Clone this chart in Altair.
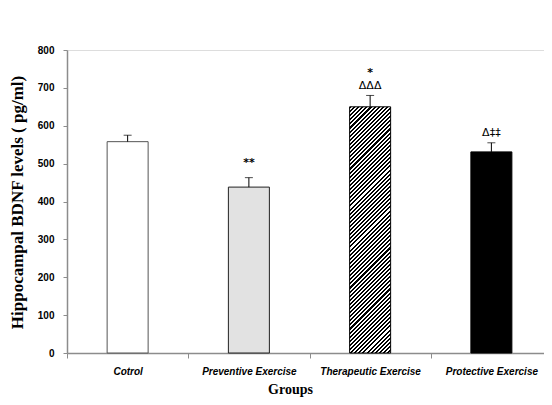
import altair as alt
import pandas as pd

groups = ["Cotrol", "Preventive Exercise", "Therapeutic Exercise", "Protective Exercise"]
means = [558, 438, 650, 531]
errors = [17, 25, 30, 24]
ann_main = ["", "**", "ΔΔΔ", "Δ‡‡"]
ann_top = ["", "", "*", ""]
y_ticks = [0, 100, 200, 300, 400, 500, 600, 700, 800]

df = pd.DataFrame({"group": groups, "mean": means, "err": errors,
                   "ann": ann_main, "ann2": ann_top})
df["upper"] = df["mean"] + df["err"]

W, H = 477, 303
XR = 485
BAR_W = 41
YMAX = 800

# diagonal hatch gradient for the therapeutic bar
ther_h = means[2] / YMAX * H
a, b = BAR_W, ther_h
vx, vy = a / b, 1.0
s = (vx + vy) / (vx * vx + vy * vy)
x2, y2 = vx * s, vy * s
perp_len = (a + b) / (2 ** 0.5)
N = int(perp_len / 2.9)
stops = []
for i in range(N):
    o0, o1, o2 = i / N, (i + 0.5) / N, (i + 1) / N
    stops += [alt.GradientStop(offset=o0, color="#000000"),
              alt.GradientStop(offset=o1, color="#000000"),
              alt.GradientStop(offset=o1, color="#ffffff"),
              alt.GradientStop(offset=o2, color="#ffffff")]
hatch = alt.LinearGradient(gradient="linear", x1=0, y1=0, x2=x2, y2=y2, stops=stops)

xaxis = alt.Axis(title="Groups", labelAngle=0, labelFont="Liberation Sans",
                 labelFontSize=10, labelFontWeight="bold", labelFontStyle="italic",
                 labelColor="#000000", labelPadding=8, tickBand="extent",
                 tickSize=5, tickColor="#8c8c8c", domainColor="#8c8c8c",
                 domainWidth=1.5, titleFont="Liberation Serif", titleFontSize=14,
                 titleFontWeight="bold", titleColor="#000000",
                 titleX=223, titleY=40, titleBaseline="alphabetic",
                 titleAlign="center")
yaxis = alt.Axis(title="Hippocampal BDNF levels ( pg/ml)", values=y_ticks,
                 labelOverlap=False, grid=False, labelFont="Liberation Sans",
                 labelFontSize=10, labelFontWeight="bold", labelColor="#000000",
                 labelPadding=9, tickSize=4, tickColor="#8c8c8c",
                 domainColor="#8c8c8c", domainWidth=1.5,
                 titleFont="Liberation Serif", titleFontSize=17,
                 titleFontWeight="bold", titleColor="#000000",
                 titleX=-50, titleY=152, titleAngle=-90,
                 titleBaseline="middle", titleAlign="center")
xscale = alt.Scale(paddingInner=0, paddingOuter=0, range=[0, XR])
yscale = alt.Scale(domain=[0, YMAX], nice=False)

def X():
    return alt.X("group:N", sort=groups, scale=xscale, axis=xaxis)

def Y(field):
    return alt.Y(f"{field}:Q", scale=yscale, axis=yaxis)

base = alt.Chart(df)

def bar(name, fill, stroke):
    return base.transform_filter(alt.datum.group == name).mark_bar(
        size=BAR_W, fill=fill, stroke=stroke, strokeWidth=1
    ).encode(x=X(), y=Y("mean"))

bars = [bar(groups[0], "#ffffff", "#555555"),
        bar(groups[1], "#e2e2e2", "#222222"),
        bar(groups[2], hatch, "#000000"),
        bar(groups[3], "#000000", "#000000")]

rule = base.mark_rule(color="#000000", strokeWidth=1).encode(
    x=X(), y=Y("mean"), y2="upper:Q")
cap = base.mark_tick(color="#000000", size=8, thickness=1).encode(
    x=X(), y=Y("upper"))

def ann(name, field, dy, size, weight="normal"):
    return base.transform_filter(alt.datum.group == name).mark_text(
        dy=dy, baseline="alphabetic", align="center", font="DejaVu Sans",
        fontSize=size, fontWeight=weight, color="#000000"
    ).encode(x=X(), y=Y("upper"), text=f"{field}:N")

texts = [ann(groups[1], "ann", -12, 11, "bold"),
         ann(groups[2], "ann", -6, 11),
         ann(groups[2], "ann2", -19, 11, "bold"),
         ann(groups[3], "ann", -7, 11)]

chart = alt.layer(*bars, rule, cap, *texts).properties(
    width=W, height=H,
    autosize=alt.AutoSizeParams(type="none"),
    padding={"left": 59, "top": 42, "right": 0, "bottom": 44},
).configure_view(stroke=None).configure(background="#ffffff")

chart.save("out.html", embed_options={"renderer": "svg", "actions": False})
